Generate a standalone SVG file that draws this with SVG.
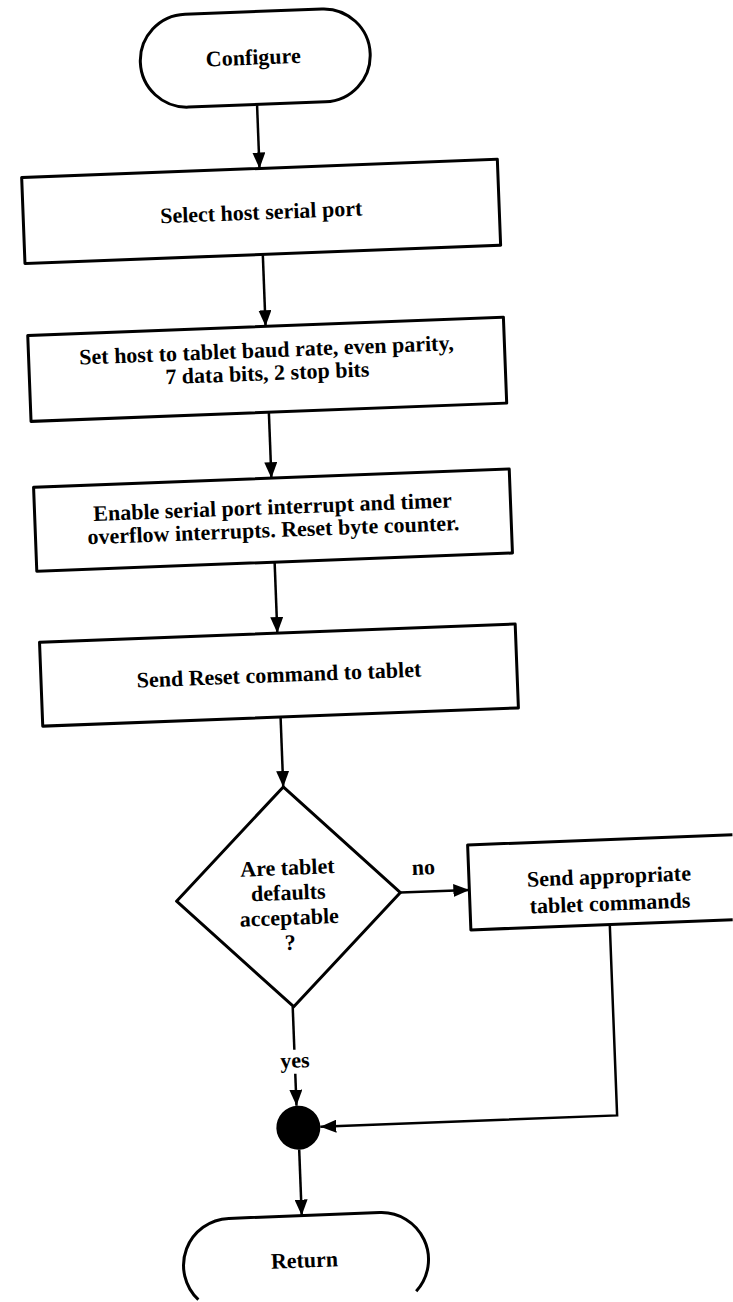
<svg xmlns="http://www.w3.org/2000/svg" width="733" height="1302" viewBox="0 0 733 1302">
<style>
.shape{fill:#fff;stroke:#000;stroke-width:3;stroke-linejoin:round}
.open{fill:none;stroke:#000;stroke-width:3;stroke-linejoin:round}
.conn{fill:none;stroke:#000;stroke-width:2.5}
.dot{fill:#000}
text{font-family:"Liberation Serif","Times New Roman",serif;font-weight:bold;font-size:22px;fill:#000;text-anchor:middle}
</style>
<defs>
<marker id="ah" markerWidth="16" markerHeight="13" refX="16" refY="6.5" orient="auto" markerUnits="userSpaceOnUse">
<path d="M0,0 L16,6.5 L0,13 Z" fill="#000"/>
</marker>
</defs>
<rect width="733" height="1302" fill="#fff"/>
<g transform="rotate(-2.2 280 650)">
<g id="connectors">
<path class="conn" d="M278 104 V168" marker-end="url(#ah)"/>
<path class="conn" d="M278 254 V326" marker-end="url(#ah)"/>
<path class="conn" d="M278 412 V478" marker-end="url(#ah)"/>
<path class="conn" d="M278 562 V633" marker-end="url(#ah)"/>
<path class="conn" d="M278 717 V787" marker-end="url(#ah)"/>
<path class="conn" d="M391 897 H460" marker-end="url(#ah)"/>
<path class="conn" d="M279 1007 V1050"/>
<path class="conn" d="M279 1074 V1106" marker-end="url(#ah)"/>
<path class="conn" d="M599 937 V1128 H302" marker-end="url(#ah)"/>
<path class="conn" d="M280 1150 V1216" marker-end="url(#ah)"/>
<text x="415" y="880">no</text>
<text x="279" y="1068">yes</text>
</g>
<g id="configure">
<rect class="shape" x="163" y="11" width="230" height="93" rx="46.5"/>
<text x="276" y="64">Configure</text>
</g>
<g id="select-port">
<rect class="shape" x="40" y="168" width="476" height="86"/>
<text x="278" y="219">Select host serial port</text>
</g>
<g id="set-baud">
<rect class="shape" x="40" y="326" width="476" height="86"/>
<text x="278" y="357">Set host to tablet baud rate, even parity,</text>
<text x="278" y="380">7 data bits, 2 stop bits</text>
</g>
<g id="enable-interrupts">
<rect class="shape" x="40" y="478" width="476" height="84"/>
<text x="278" y="514">Enable serial port interrupt and timer</text>
<text x="278" y="537">overflow interrupts. Reset byte counter.</text>
</g>
<g id="send-reset">
<rect class="shape" x="40" y="633" width="476" height="84"/>
<text x="278" y="682">Send Reset command to tablet</text>
</g>
<g id="decision">
<polygon class="shape" points="278,787 391,897 280,1007 167,897"/>
<text x="279" y="875">Are tablet</text>
<text x="279" y="900">defaults</text>
<text x="279" y="925">acceptable</text>
<text x="279" y="950">?</text>
</g>
<g id="send-commands">
<path class="open" d="M725 852 H460 V937 H722"/>
<text x="600" y="896">Send appropriate</text>
<text x="600" y="923">tablet commands</text>
</g>
<g id="junction">
<circle class="dot" cx="280" cy="1128" r="22"/>
</g>
<g id="return">
<path class="open" d="M173.5 1296 A47 47 0 0 1 207 1216 H358 A47 47 0 0 1 391.5 1296"/>
<text x="281" y="1268">Return</text>
</g>
</g>
</svg>
